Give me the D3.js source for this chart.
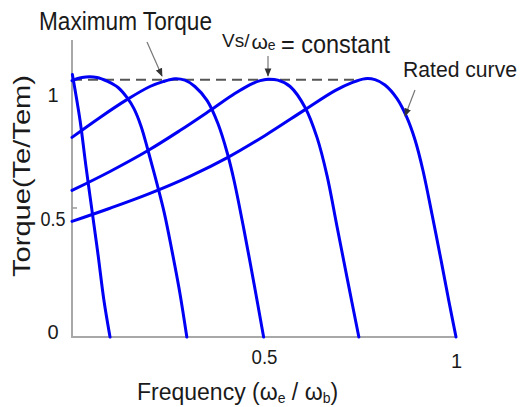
<!doctype html>
<html lang="en">
<head>
  <meta charset="utf-8">
  <title>Torque - frequency curves</title>
  <style>
    body { margin: 0; background: #fff; }
    svg text { font-family: "Liberation Sans", Arial, sans-serif; fill: #1a1a1a; }
  </style>
</head>
<body>
  <svg width="523" height="407"></svg>

  <script src="https://cdn.jsdelivr.net/npm/d3@7"></script>
  <script>
    // torque-speed curves at several stator frequencies: [freq, torque]
    var curveF01 = [[0.001, 1.078], [0.021, 0.889], [0.036, 0.705], [0.052, 0.520], [0.068, 0.336], [0.083, 0.152], [0.099, 0]];
    var curveF03 = [[0, 1.053], [0.026, 1.066], [0.065, 1.066], [0.094, 1.049], [0.120, 1.025], [0.143, 0.984],
      [0.161, 0.939], [0.180, 0.865], [0.198, 0.766], [0.219, 0.643], [0.240, 0.512], [0.260, 0.357],
      [0.281, 0.180], [0.299, 0]];
    var curveF05 = [[0, 0.820], [0.073, 0.902], [0.143, 0.975], [0.203, 1.029], [0.237, 1.049], [0.268, 1.061],
      [0.294, 1.055], [0.320, 1.029], [0.352, 0.971], [0.380, 0.877], [0.404, 0.758], [0.422, 0.643],
      [0.448, 0.439], [0.477, 0.193], [0.499, 0]];
    var curveF075 = [[0, 0.602], [0.099, 0.680], [0.198, 0.766], [0.281, 0.848], [0.359, 0.930], [0.424, 1.0],
      [0.464, 1.037], [0.490, 1.053], [0.510, 1.059], [0.536, 1.055], [0.568, 1.029], [0.607, 0.943],
      [0.638, 0.820], [0.664, 0.664], [0.690, 0.455], [0.716, 0.246], [0.747, 0]];
    var curveRated = [[0, 0.475], [0.099, 0.529], [0.203, 0.590], [0.307, 0.660], [0.406, 0.738], [0.503, 0.828],
      [0.607, 0.934], [0.685, 1.012], [0.729, 1.045], [0.763, 1.061], [0.789, 1.057], [0.815, 1.035],
      [0.846, 0.980], [0.872, 0.902], [0.893, 0.811], [0.914, 0.684], [0.9375, 0.504], [0.961, 0.316],
      [0.982, 0.143], [1.0, 0]];
    var curves = [curveF01, curveF03, curveF05, curveF075, curveRated];

    var maxTorque = 1.057;      // dashed line
    var maxTorqueEnd = 0.75;    // dashed line stops near the rated peak
    var xTicks = [0.5, 1];
    var yTicks = [0, 0.5, 1];

    var svg = d3.select('svg');
    var x = d3.scaleLinear().domain([0, 1]).range([72, 456]);
    var y = d3.scaleLinear().domain([0, 1.22]).range([337, 40]);

    // axes lines
    svg.append('line')
      .attr('x1', x(0)).attr('x2', x(0))
      .attr('y1', y(1.22)).attr('y2', y(0) + 1)
      .attr('stroke', '#a8a8a8').attr('stroke-width', 2);
    svg.append('line')
      .attr('x1', x(0) - 1).attr('x2', x(1) + 1)
      .attr('y1', y(0)).attr('y2', y(0))
      .attr('stroke', '#a8a8a8').attr('stroke-width', 2);

    var yAxis = svg.append('g')
      .attr('transform', 'translate(' + x(0) + ',0)')
      .call(d3.axisLeft(y).tickValues(yTicks).tickSize(0).tickPadding(19).tickFormat(d3.format('')));
    yAxis.select('.domain').remove();
    yAxis.selectAll('text')
      .attr('text-anchor', 'middle')
      .attr('font-size', 20)
      .attr('textLength', d => d === 0.5 ? 25 : null)
      .attr('lengthAdjust', 'spacingAndGlyphs')
      .attr('dy', d => d === 0 ? '0.05em' : d === 0.5 ? '0.52em' : '0.38em');

    var xAxis = svg.append('g')
      .attr('transform', 'translate(0,' + y(0) + ')')
      .call(d3.axisBottom(x).tickValues(xTicks).tickSize(0).tickPadding(10).tickFormat(d3.format('')));
    xAxis.select('.domain').remove();
    xAxis.selectAll('text')
      .attr('font-size', 20)
      .attr('textLength', d => d === 0.5 ? 26 : null)
      .attr('lengthAdjust', 'spacingAndGlyphs')
      .attr('dy', d => d === 1 ? '1.05em' : '0.85em');

    // little tick on the y axis
    svg.append('line')
      .attr('x1', x(0)).attr('x2', x(0) + 5)
      .attr('y1', y(0.53)).attr('y2', y(0.53))
      .attr('stroke', '#999').attr('stroke-width', 1.5);

    // max torque dashed line
    svg.append('line')
      .attr('x1', x(0)).attr('x2', x(maxTorqueEnd))
      .attr('y1', y(maxTorque)).attr('y2', y(maxTorque))
      .attr('stroke', '#555').attr('stroke-width', 2)
      .attr('stroke-dasharray', '10,6');

    var line = d3.line()
      .x(d => x(d[0]))
      .y(d => y(d[1]))
      .curve(d3.curveCatmullRom.alpha(0.5));

    svg.selectAll('path.curve').data(curves).enter()
      .append('path')
      .attr('class', 'curve')
      .attr('d', line)
      .attr('fill', 'none')
      .attr('stroke', '#0000f5')
      .attr('stroke-width', 3)
      .attr('stroke-linecap', 'round');

    // arrows
    svg.append('defs').append('marker')
      .attr('id', 'head')
      .attr('viewBox', '0 0 10 10')
      .attr('refX', 9).attr('refY', 5)
      .attr('markerWidth', 7).attr('markerHeight', 7)
      .attr('orient', 'auto')
      .append('path')
      .attr('d', 'M0,1 L10,5 L0,9 Z')
      .attr('fill', '#333');

    function arrow(x1, y1, x2, y2) {
      svg.append('line')
        .attr('x1', x1).attr('y1', y1).attr('x2', x2).attr('y2', y2)
        .attr('stroke', '#777').attr('stroke-width', 1.2)
        .attr('marker-end', 'url(#head)');
    }
    arrow(147, 42, 162, 76);
    arrow(268, 56, 268, 76);
    arrow(415, 90, 405, 116);

    // labels
    svg.append('text')
      .attr('x', 39).attr('y', 30)
      .attr('font-size', 25)
      .attr('textLength', 173).attr('lengthAdjust', 'spacingAndGlyphs')
      .text('Maximum Torque');

    var vs = svg.append('text').attr('x', 222).attr('y', 47);
    vs.append('tspan').attr('font-size', 19).text('Vs/');
    vs.append('tspan').attr('font-size', 21).attr('dx', 2).attr('dy', 2).text('ω');
    vs.append('tspan').attr('font-size', 14).attr('dy', 1).text('e');

    svg.append('text')
      .attr('x', 281).attr('y', 53)
      .attr('font-size', 25)
      .attr('textLength', 109).attr('lengthAdjust', 'spacingAndGlyphs')
      .text('= constant');

    svg.append('text')
      .attr('x', 403).attr('y', 77)
      .attr('font-size', 22)
      .attr('textLength', 114).attr('lengthAdjust', 'spacingAndGlyphs')
      .text('Rated curve');

    svg.append('text')
      .attr('transform', 'translate(30,176) rotate(-90)')
      .attr('text-anchor', 'middle')
      .attr('font-size', 24)
      .attr('textLength', 202).attr('lengthAdjust', 'spacingAndGlyphs')
      .text('Torque(Te/Tem)');

    var xl = svg.append('text').attr('x', 137).attr('y', 400).attr('font-size', 23);
    xl.append('tspan').text('Frequency (');
    xl.append('tspan').text('ω');
    xl.append('tspan').attr('font-size', 14).attr('baseline-shift', '-20%').text('e');
    xl.append('tspan').text(' / ');
    xl.append('tspan').text('ω');
    xl.append('tspan').attr('font-size', 14).attr('baseline-shift', '-20%').text('b');
    xl.append('tspan').text(')');
  </script>
</body>
</html>
